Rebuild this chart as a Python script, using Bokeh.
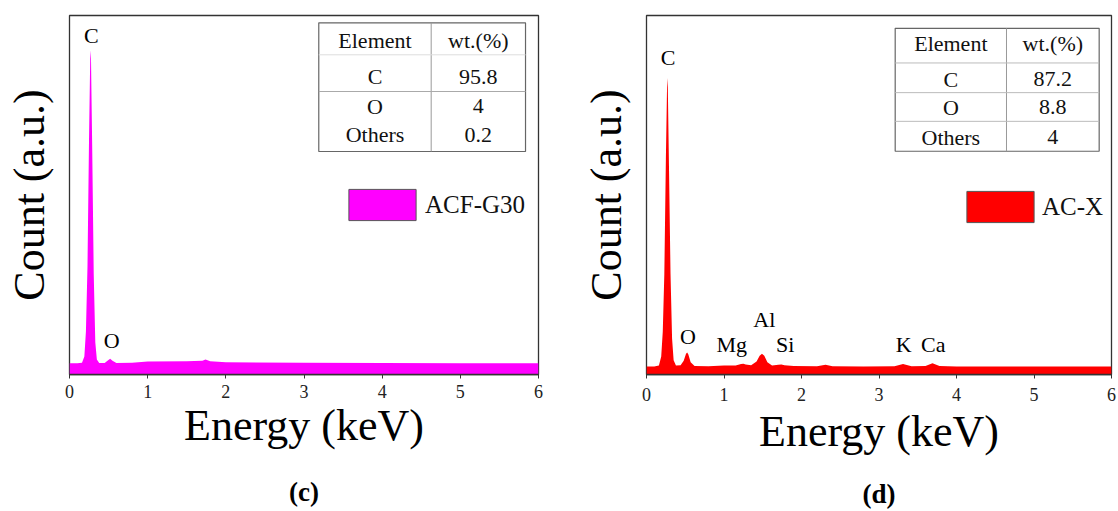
from bokeh.plotting import figure
from bokeh.layouts import row
from bokeh.models import FixedTicker, Legend, LegendItem, Range1d, LinearAxis
from bokeh.core.properties import value
from bokeh.embed import file_html
from bokeh.resources import INLINE

# ---------------- data ----------------
energy_c = [0.00, 0.10, 0.16, 0.19, 0.21, 0.23, 0.25, 0.265, 0.27, 0.275, 0.29, 0.31, 0.33, 0.35,
            0.38, 0.45, 0.49, 0.52, 0.55, 0.60, 0.80, 1.00, 1.50, 1.70, 1.74, 1.80, 2.00, 3.00,
            4.00, 5.00, 6.00]
count_c = [3.1, 3.1, 3.3, 5.0, 12.0, 30.0, 66.0, 88.0, 90.3, 88.0, 64.0, 28.0, 9.0, 4.2,
           3.2, 3.2, 3.9, 4.4, 3.8, 3.2, 3.3, 3.6, 3.7, 3.8, 4.2, 3.7, 3.4, 3.3,
           3.2, 3.1, 3.1]

energy_d = [0.00, 0.10, 0.16, 0.19, 0.21, 0.23, 0.25, 0.265, 0.27, 0.275, 0.29, 0.31, 0.33, 0.35,
            0.38, 0.44, 0.48, 0.51, 0.525, 0.54, 0.57, 0.62, 0.80, 1.00, 1.15, 1.22, 1.25, 1.28,
            1.35, 1.42, 1.46, 1.49, 1.52, 1.56, 1.62, 1.70, 1.74, 1.78, 1.90, 2.20, 2.31, 2.40,
            2.80, 3.20, 3.31, 3.42, 3.60, 3.69, 3.78, 4.00, 5.00, 6.00]
count_d = [2.2, 2.2, 2.5, 5.0, 12.0, 28.0, 60.0, 80.0, 82.6, 80.0, 58.0, 28.0, 10.0, 4.0,
           2.5, 2.6, 3.8, 5.8, 6.1, 5.6, 3.4, 2.4, 2.3, 2.5, 2.5, 2.9, 3.0, 2.8,
           2.6, 3.6, 5.2, 5.8, 5.2, 3.4, 2.5, 2.7, 2.8, 2.6, 2.4, 2.3, 2.7, 2.3,
           2.2, 2.3, 2.9, 2.3, 2.4, 3.1, 2.4, 2.2, 2.2, 2.2]

x_ticks = [0, 1, 2, 3, 4, 5, 6]
tick_labels = {0: "0", 1: "1", 2: "2", 3: "3", 4: "4", 5: "5", 6: "6"}

table_header = ["Element", "wt.(%)"]
elements = ["C", "O", "Others"]
wt_c = ["95.8", "4", "0.2"]
wt_d = ["87.2", "8.8", "4"]

peaks_c = ["C", "O"]
peaks_d = ["C", "O", "Mg", "Al", "Si", "K", "Ca"]

SERIF = "Liberation Serif"
NAN = float("nan")


def make_panel(energy, count, color, sample, letter, peaks, peak_x, peak_y, wt,
               table_x, table_y, row_y, hlines, hline_colors,
               frame, legend_loc, legend_standoff, tick_standoff, label_standoff,
               letter_standoff):
    left, right, top, bottom = frame
    p = figure(width=559, height=511, output_backend="svg", toolbar_location=None,
               x_range=Range1d(0, 6), y_range=Range1d(0, 100),
               min_border_left=left, min_border_right=559 - right,
               min_border_top=top, min_border_bottom=511 - bottom)
    p.background_fill_color = "white"
    p.border_fill_color = "white"
    p.outline_line_color = "#333333"
    p.outline_line_width = 1.3
    p.xgrid.visible = False
    p.ygrid.visible = False

    # y axis: only the title
    p.yaxis.ticker = FixedTicker(ticks=[])
    p.yaxis.axis_line_color = None
    p.yaxis.major_tick_line_color = None
    p.yaxis.minor_tick_line_color = None
    p.yaxis.axis_label = "Count (a.u.)"
    p.yaxis.axis_label_text_font = SERIF
    p.yaxis.axis_label_text_font_size = "44px"
    p.yaxis.axis_label_text_font_style = "normal"
    p.yaxis.axis_label_text_color = "black"
    p.yaxis.axis_label_standoff = 16

    # x axis
    p.xaxis.ticker = FixedTicker(ticks=x_ticks)
    p.xaxis.major_label_overrides = tick_labels
    p.xaxis.axis_line_color = "#333333"
    p.xaxis.axis_line_width = 1.3
    p.xaxis.major_tick_line_color = "#333333"
    p.xaxis.major_tick_out = 4
    p.xaxis.major_tick_in = 0
    p.xaxis.minor_tick_line_color = None
    p.xaxis.major_label_text_font = SERIF
    p.xaxis.major_label_text_font_size = "18px"
    p.xaxis.major_label_text_color = "#222222"
    p.xaxis.major_label_standoff = tick_standoff
    p.xaxis.axis_label = "Energy (keV)"
    p.xaxis.axis_label_text_font = SERIF
    p.xaxis.axis_label_text_font_size = "44px"
    p.xaxis.axis_label_text_font_style = "normal"
    p.xaxis.axis_label_text_color = "black"
    p.xaxis.axis_label_standoff = label_standoff

    # panel letter: caption axis stacked under the energy axis
    cap = LinearAxis(ticker=FixedTicker(ticks=[]), axis_label=letter,
                     axis_line_color=None, major_tick_line_color=None,
                     minor_tick_line_color=None,
                     axis_label_text_font=SERIF, axis_label_text_font_size="27px",
                     axis_label_text_font_style="bold", axis_label_text_color="black",
                     axis_label_standoff=letter_standoff)
    p.add_layout(cap, "below")

    # spectrum
    p.varea(x=energy, y1=0, y2=count, fill_color=color)

    # peak labels
    p.text(x=peak_x, y=peak_y, text=peaks, text_font=value(SERIF), text_font_size="22px",
           text_align="center", text_baseline="middle", text_color="black")

    # table
    tx0, tx1, tx2 = table_x
    ty_top, ty_bot = table_y
    p.quad(left=[tx0], right=[tx2], top=[ty_top], bottom=[ty_bot], fill_color="white",
           line_color="#666666", line_width=1.2)
    p.segment(x0=[tx1], x1=[tx1], y0=[ty_bot], y1=[ty_top], line_color="#999999", line_width=1)
    p.segment(x0=[tx0] * len(hlines), x1=[tx2] * len(hlines), y0=hlines, y1=hlines,
              line_color=hline_colors, line_width=1)
    cx0 = (tx0 + tx1) / 2
    cx1 = (tx1 + tx2) / 2
    p.text(x=[cx0, cx1], y=[row_y[0]] * 2, text=table_header, text_font=value(SERIF),
           text_font_size="22px", text_align="center", text_baseline="middle", text_color="#111111")
    p.text(x=[cx0] * 3, y=row_y[1:], text=elements, text_font=value(SERIF),
           text_font_size="22px", text_align="center", text_baseline="middle", text_color="#111111")
    p.text(x=[cx1] * 3, y=row_y[1:], text=wt, text_font=value(SERIF),
           text_font_size="22px", text_align="center", text_baseline="middle", text_color="#111111")

    # legend (swatch glyph carries no plotted data)
    leg_r = p.quad(left=[NAN], right=[NAN], top=[NAN], bottom=[NAN], fill_color=color,
                   line_color="#555555", line_width=1)
    legend = Legend(items=[LegendItem(label=sample, renderers=[leg_r])], location=legend_loc,
                    glyph_width=84, glyph_height=39, label_height=39,
                    label_text_font=SERIF, label_text_font_size="25px", label_text_color="#111111",
                    label_standoff=legend_standoff, padding=0, margin=0, spacing=0,
                    border_line_color=None, background_fill_alpha=0)
    p.add_layout(legend, "center")
    return p


p1 = make_panel(energy_c, count_c, "#FF00FF", "ACF-G30", "(c)", peaks_c,
                [0.28, 0.54], [94.4, 9.5], wt_c,
                table_x=(3.189, 4.627, 5.834), table_y=(97.97, 62.12),
                row_y=[93.0, 83.0, 74.7, 66.8], hlines=[89.05, 78.83],
                hline_colors=["#dddddd", "#aaaaaa"],
                frame=(69, 538, 15, 374), legend_loc=(271, 150), legend_standoff=1,
                tick_standoff=6, label_standoff=0, letter_standoff=24)

p2 = make_panel(energy_d, count_d, "#FF0000", "AC-X", "(d)", peaks_d,
                [0.277, 0.535, 1.10, 1.52, 1.79, 3.32, 3.70],
                [88.4, 10.5, 8.3, 15.4, 8.3, 8.3, 8.3], wt_d,
                table_x=(3.209, 4.645, 5.841), table_y=(96.42, 62.18),
                row_y=[92.3, 82.2, 74.4, 66.1], hlines=[86.78, 78.51, 70.52],
                hline_colors=["#bbbbbb", "#bbbbbb", "#bbbbbb"],
                frame=(87, 552, 15, 378), legend_loc=(312, 148), legend_standoff=0,
                tick_standoff=9, label_standoff=3, letter_standoff=20)

layout = row(p1, p2)
open("out.html", "w").write(file_html(layout, INLINE))
